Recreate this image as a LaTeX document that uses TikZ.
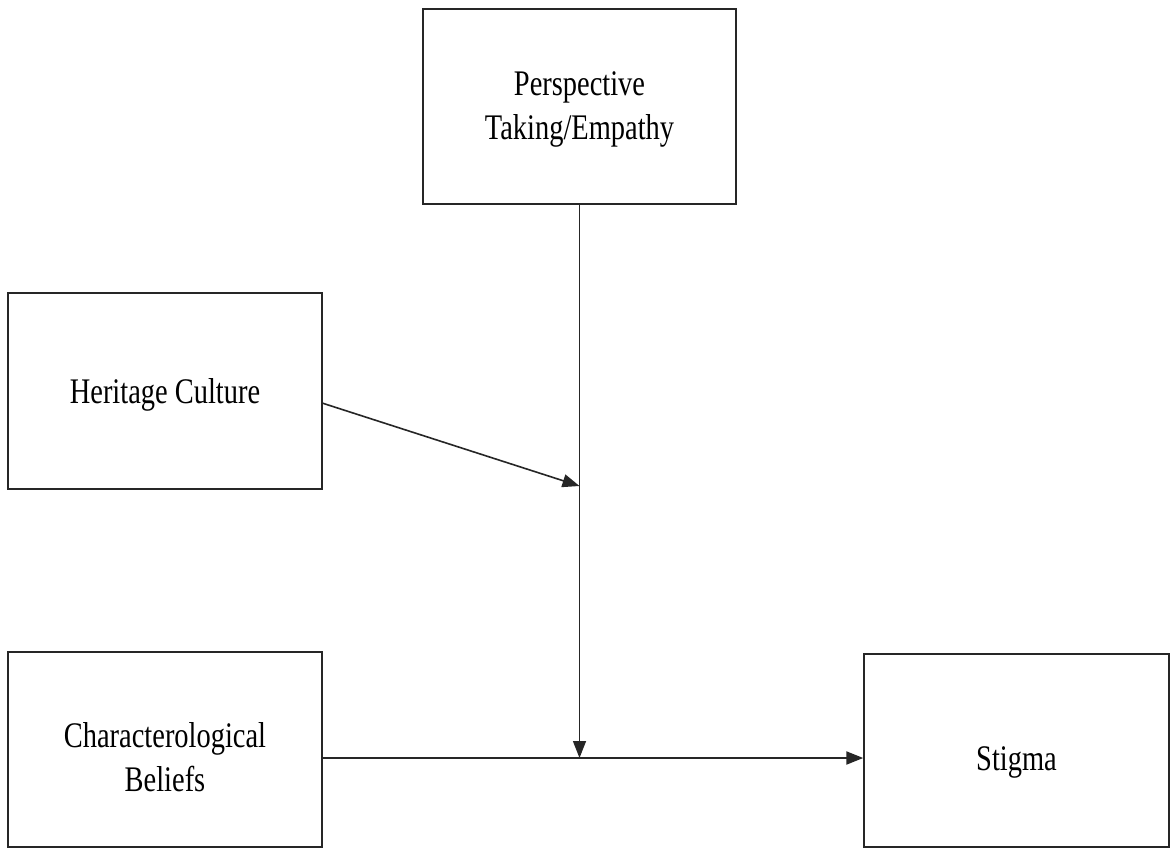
\documentclass[tikz,border=0pt]{standalone}
\usepackage{fontspec}
\setmainfont{Liberation Serif}[FakeStretch=0.79]
\usetikzlibrary{arrows.meta}
\begin{document}
\begin{tikzpicture}[x=1pt,y=-1pt,
  box/.style={draw=black!85,line width=1.5pt,rectangle,inner sep=0pt,align=center,
    font=\fontsize{36}{44}\selectfont},
  conn/.style={draw=black!85,line width=1.6pt,-{Triangle[length=17pt,width=13pt]}}]
\useasboundingbox (0,0) rectangle (1171,848);
\fill[white] (0,0) rectangle (1171,848);
\node[box,minimum width=313pt,minimum height=195pt] (persp) at (579.5,106.5) {\rule{0pt}{29pt}Perspective\\Taking/Empathy};
\node[box,minimum width=314pt,minimum height=196pt] (herit) at (165,391) {\rule{0pt}{33pt}Heritage Culture};
\node[box,minimum width=314pt,minimum height=195pt] (charac) at (165,749.5) {\rule{0pt}{41pt}Characterological\\Beliefs};
\node[box,minimum width=305pt,minimum height=193pt] (stigma) at (1016.5,750.5) {\rule{0pt}{47pt}Stigma};
\coordinate (j) at (579.5,758);
\coordinate (m) at (579.5,486);
\coordinate (hs) at (322,403);
\draw[conn,line width=1.4pt] (persp.south) -- (j);
\draw[conn,line width=2.2pt] (j -| charac.east) -- (j -| stigma.west);
\draw[conn] (hs) -- (m);
\end{tikzpicture}
\end{document}
